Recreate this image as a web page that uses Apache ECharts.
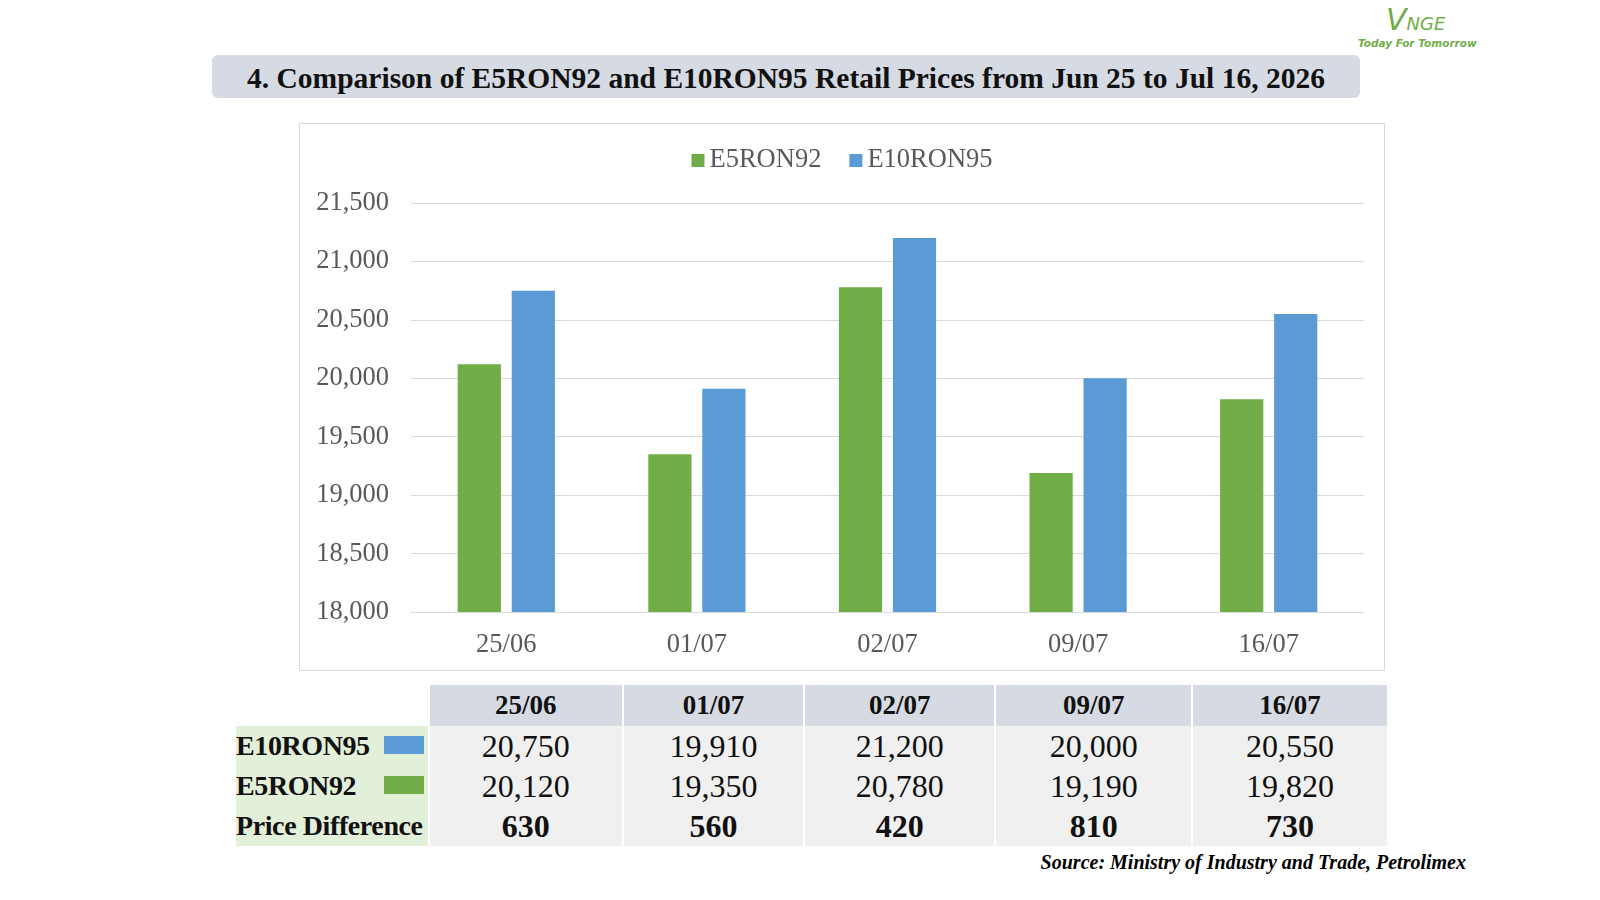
<!DOCTYPE html>
<html><head><meta charset="utf-8">
<script src="https://cdn.jsdelivr.net/npm/echarts@6/dist/echarts.min.js"></script>
<style>
body{margin:0;width:1600px;height:900px;background:#fff;position:relative;font-family:"Liberation Serif",serif;overflow:hidden}
#title{position:absolute;left:212px;top:55px;width:1148px;height:43px;background:#d6dae3;border-radius:6px;text-align:center;line-height:46px;font-weight:bold;font-size:29.5px;color:#111}
#frame{position:absolute;left:299px;top:123px;width:1084px;height:546px;border:1.5px solid #d9d9d9}
#main{position:absolute;left:0;top:0;width:1084px;height:546px}
#tbl{position:absolute;left:234px;top:685px;border-collapse:separate;border-spacing:2px 0;font-size:32px;color:#111;table-layout:fixed;width:1155px}
#tbl td{padding:0;text-align:center;height:40px;background:#f0f0f0;white-space:nowrap}
#tbl tr.h td{background:#d6dae3;font-weight:bold;font-size:27px;height:41px}
#tbl td.l{text-align:left;font-weight:bold;font-size:28px;background:#e2efd9;position:relative;letter-spacing:-0.4px}
#tbl tr.h td.e{background:#fff}
.sw{position:absolute;right:4px;top:10px;width:40px;height:18px}
#logo{position:absolute;left:1358px;top:2px;color:#70ad47;font-style:italic}
#src{position:absolute;right:134px;top:851px;font-size:20px;font-weight:bold;font-style:italic}
</style></head><body>
<div id="title">4. Comparison of E5RON92 and E10RON95 Retail Prices from Jun 25 to Jul 16, 2026</div>
<div id="logo"><div style="font-size:30px;margin-left:28px;font-family:'DejaVu Sans'">V<span style="font-size:18px">NGE</span></div><div style="font-size:10.5px;font-weight:bold;font-family:'DejaVu Sans'">Today For Tomorrow</div></div>
<div id="frame"><div id="main"></div></div>
<table id="tbl"></table>
<div id="src">Source: Ministry of Industry and Trade, Petrolimex</div>
<script>
const dates = ['25/06', '01/07', '02/07', '09/07', '16/07'];
const e5ron92 = [20120, 19350, 20780, 19190, 19820];
const e10ron95 = [20750, 19910, 21200, 20000, 20550];
const green = '#70ad47', blue = '#5b9bd5';
const fmt = v => v.toLocaleString('en-US');

const chart = echarts.init(document.getElementById('main'));
chart.setOption({
  animation: false,
  textStyle: { fontFamily: 'Liberation Serif' },
  legend: { top: 18, left: 'center', itemWidth: 13, itemHeight: 13, itemGap: 28, icon: 'rect',
    textStyle: { fontSize: 26.5, color: '#595959', fontFamily: 'Liberation Serif' } },
  grid: { left: 111, right: 20, top: 79, bottom: 58 },
  xAxis: { type: 'category', data: dates,
    axisLine: { lineStyle: { color: '#d9d9d9' } }, axisTick: { show: false },
    axisLabel: { fontSize: 26.5, color: '#595959', margin: 20 } },
  yAxis: { type: 'value', min: 18000, max: 21500, interval: 500,
    axisLabel: { fontSize: 26.5, color: '#595959', formatter: fmt, margin: 22 },
    splitLine: { lineStyle: { color: '#d9d9d9' } } },
  series: [
    { name: 'E5RON92', type: 'bar', data: e5ron92, itemStyle: { color: green }, barGap: '25%', barCategoryGap: '49%' },
    { name: 'E10RON95', type: 'bar', data: e10ron95, itemStyle: { color: blue } }
  ]
});

const widths = [191, 191, 179, 188, 194, 193];
let html = '<colgroup>' + widths.map(w => `<col style="width:${w}px">`).join('') + '</colgroup>';
html += '<tr class="h"><td class="l e"></td>' + dates.map(d => `<td>${d}</td>`).join('') + '</tr>';
html += `<tr><td class="l">E10RON95<span class="sw" style="background:${blue}"></span></td>` + e10ron95.map(v => `<td>${fmt(v)}</td>`).join('') + '</tr>';
html += `<tr><td class="l">E5RON92<span class="sw" style="background:${green}"></span></td>` + e5ron92.map(v => `<td>${fmt(v)}</td>`).join('') + '</tr>';
html += '<tr><td class="l">Price Difference</td>' + e10ron95.map((v, i) => `<td style="font-weight:bold">${fmt(v - e5ron92[i])}</td>`).join('') + '</tr>';
document.getElementById('tbl').innerHTML = html;
</script>
</body></html>
